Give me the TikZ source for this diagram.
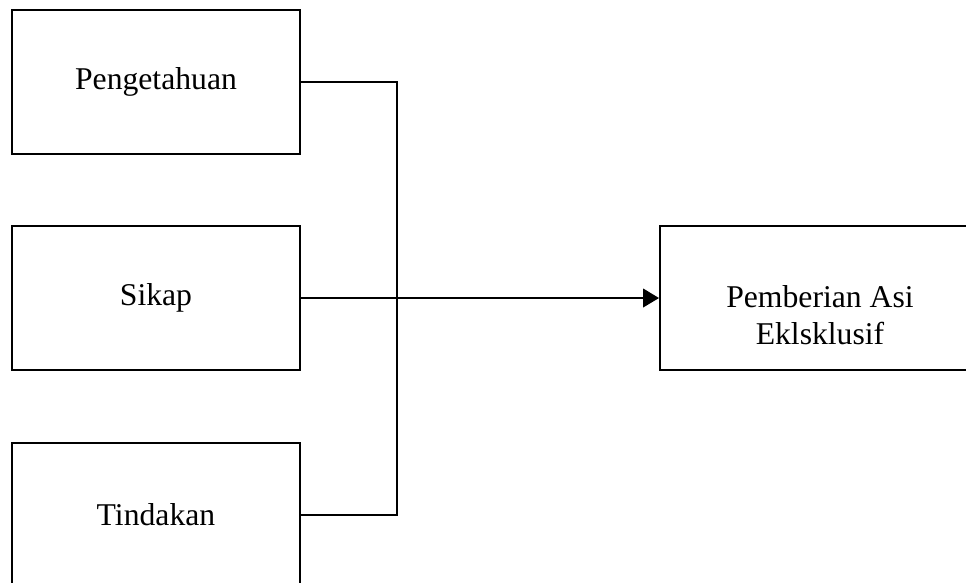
\documentclass[tikz,border=0pt]{standalone}
\usepackage{fontspec}
\setmainfont{Liberation Serif}
\usetikzlibrary{arrows.meta,positioning}

\begin{document}
\begin{tikzpicture}[x=0.3788pt,y=-0.3788pt]
            \useasboundingbox (0,0) rectangle (966,582);
            \begin{scope}[every node/.style={draw,line width=0.75pt,minimum width=109.1pt,minimum height=54.5pt,inner sep=0pt,font=\fontsize{12}{14}\selectfont}]
                \node (peng) at (156,82) {Pengetahuan};
                \node (sikap) at (156,298) {Sikap};
                \node (tind) at (156,515) {Tindakan};

                \node[minimum width=121.2pt] (asi) at (820,298) {};
            \end{scope}
                \node[align=center,font=\fontsize{12}{14}\selectfont] (asitext) at (820,315) {Pemberian Asi\\Eklsklusif};
                \coordinate (bend) at (397,82);
                \draw[line width=0.75pt] (peng.east) -- (bend) |- (tind.east);
                \draw[line width=0.75pt,-{Triangle[length=6pt,width=7pt]}] (sikap.east) -- (asi.west);
            \end{tikzpicture}
\end{document}
